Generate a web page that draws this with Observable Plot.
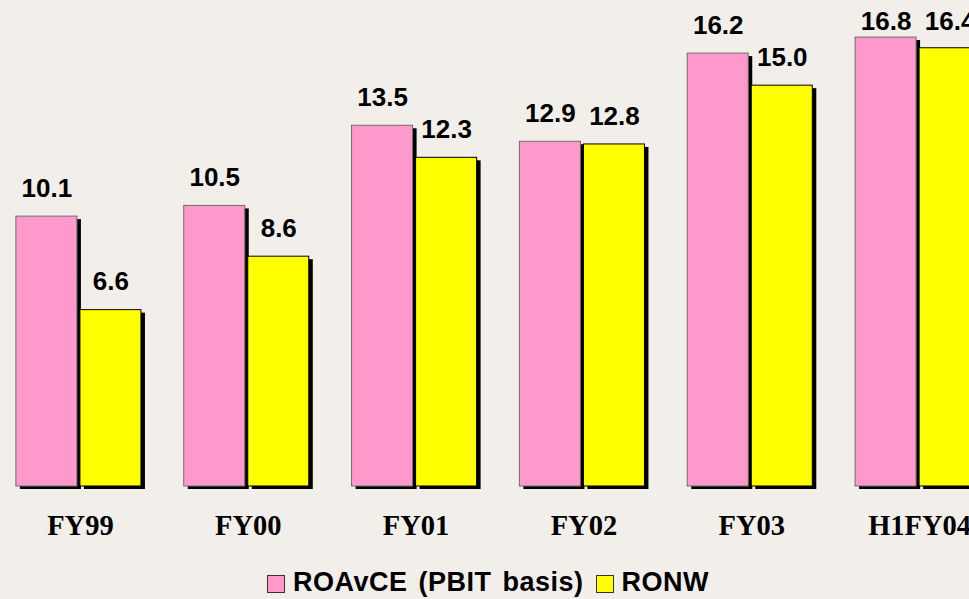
<!DOCTYPE html>
<html>
<head>
<meta charset="utf-8">
<script src="https://cdn.jsdelivr.net/npm/d3@7"></script>
<script src="https://cdn.jsdelivr.net/npm/@observablehq/plot@0.6"></script>
<style>
  html, body { margin: 0; padding: 0; background: #F2EFEB; overflow: hidden; width: 969px; height: 599px; }
  #chart svg { display: block; background: transparent; }
  #legend { height: 34px; display: flex; align-items: center; padding-left: 267px;
    font-family: "Liberation Sans", Arial, sans-serif; font-weight: bold; font-size: 27px; color: #000; }
  .item { display: flex; align-items: center; }
  .sw { width: 16px; height: 16px; border: 1px solid #333; margin-right: 8px; margin-top: 3px; }
  .lbl { word-spacing: 3px; letter-spacing: 0.5px; }
</style>
</head>
<body>
<div id="chart"></div>
<div id="legend"></div>
<script>
const categories = ["FY99", "FY00", "FY01", "FY02", "FY03", "H1FY04"];
const seriesNames = ["ROAvCE (PBIT basis)", "RONW"];
const roavce = [10.1, 10.5, 13.5, 12.9, 16.2, 16.8];
const ronw = [6.6, 8.6, 12.3, 12.8, 15.0, 16.4];
const colors = ["#FF99CC", "#FFFF00"];
const borders = ["#6e6e6e", "#000000"];
// labels near the top of the plot area are kept inside it, as in the original
const labelCeiling = 16.33;

const data = categories.flatMap((c, i) => [
  {cat: c, series: seriesNames[0], value: roavce[i]},
  {cat: c, series: seriesNames[1], value: ronw[i]}
]);

const chart = Plot.plot({
  width: 969,
  height: 565,
  marginLeft: -4,
  marginRight: -34,
  marginTop: 5,
  marginBottom: 79,
  style: {background: "transparent"},
  fx: {domain: categories, paddingInner: 0.237, paddingOuter: 0.1185, round: false, label: null, axis: null},
  x: {domain: seriesNames, padding: 0, round: false, axis: null},
  y: {domain: [0, 18], axis: null},
  marks: [
    Plot.barY(data, {fx: "cat", x: "series", y: "value", fill: "black", dx: 4, dy: 3, insetRight: 3}),
    ...seriesNames.map((s, k) =>
      Plot.barY(data.filter(d => d.series === s), {
        fx: "cat", x: "series", y: "value", fill: colors[k], stroke: borders[k], strokeWidth: 1, insetRight: 3
      })
    ),
    Plot.text(data, {
      fx: "cat", x: "series", y: d => Math.min(d.value, labelCeiling), text: d => d.value.toFixed(1), dy: -28, dx: -1.5,
      fontSize: 26, fontWeight: "bold", fontFamily: "Liberation Sans, Arial, sans-serif", fill: "black"
    }),
    Plot.axisFx({
      anchor: "bottom", tickSize: 0, tickPadding: 28, label: null,
      fontSize: 28.5, fontWeight: "bold", fontFamily: "Liberation Serif, Times New Roman, serif", fill: "black"
    })
  ]
});
document.getElementById("chart").appendChild(chart);

const legend = document.getElementById("legend");
seriesNames.forEach((s, k) => {
  const item = document.createElement("div");
  item.className = "item";
  item.style.marginRight = k === 0 ? "12px" : "0";
  const sw = document.createElement("span");
  sw.className = "sw";
  sw.style.background = colors[k];
  const lbl = document.createElement("span");
  lbl.className = "lbl";
  lbl.textContent = s;
  item.appendChild(sw);
  item.appendChild(lbl);
  legend.appendChild(item);
});
</script>
</body>
</html>
